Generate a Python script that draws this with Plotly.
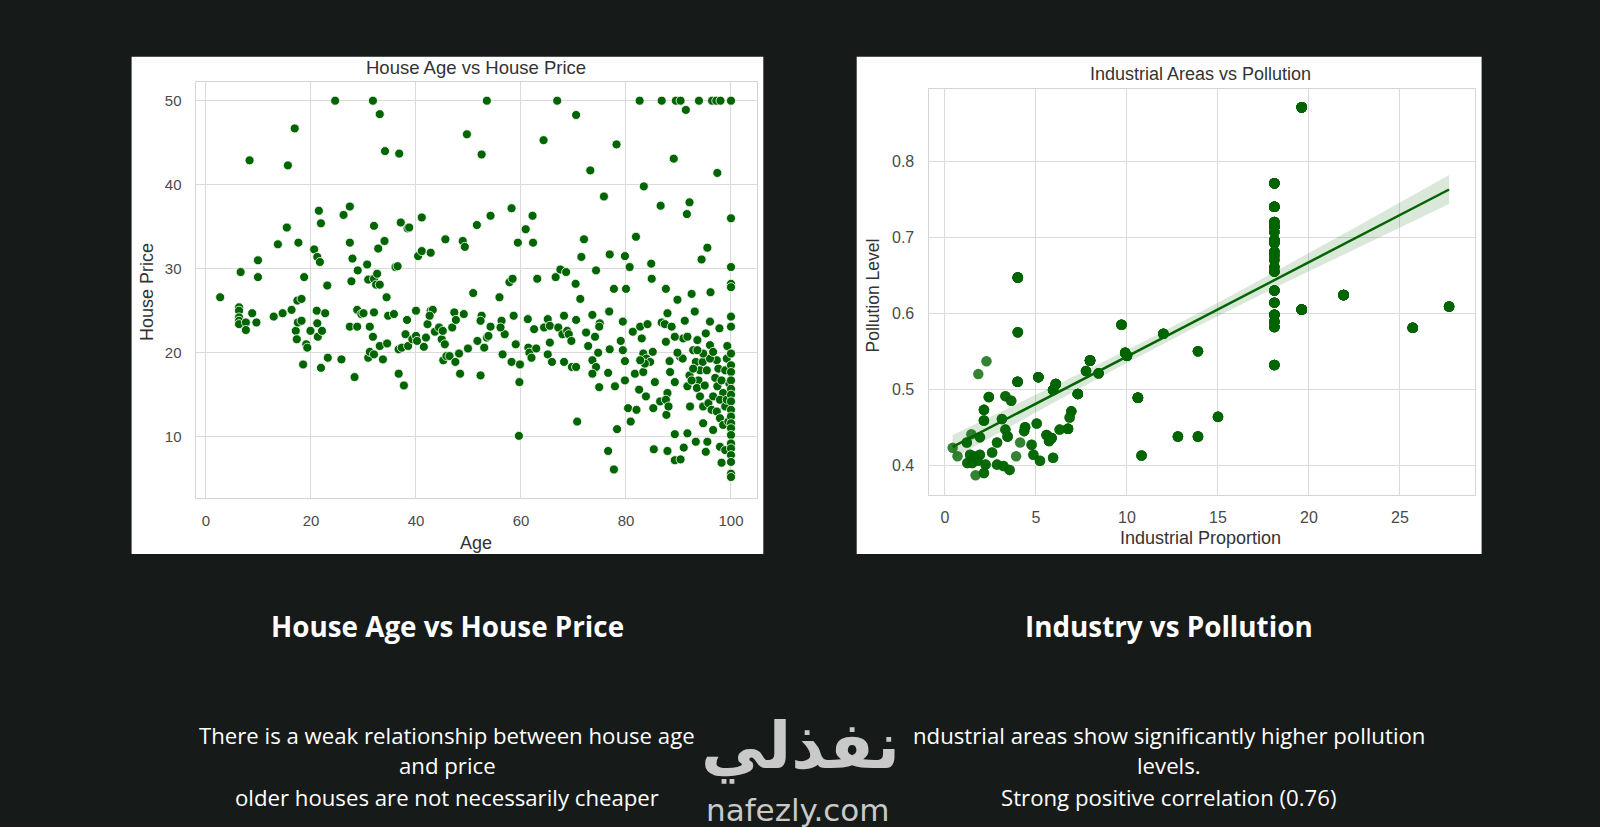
import numpy as np
import plotly.graph_objects as go

W, H = 1600, 827
BG = '#161a19'
GREEN = '#006400'
SANS = 'Liberation Sans, Arial, sans-serif'
OPEN = 'Open Sans, sans-serif'

# ---- left chart: house age vs house price
AGE_SPREAD = [
    2.7, 6.3, 6.3, 6.3, 6.3, 6.3, 6.6, 7.6, 7.6, 8.3,
    8.8, 9.6, 9.9, 9.9, 12.9, 13.7, 14.6, 15.4, 15.6, 16.3,
    16.9, 17.1, 17.3, 17.5, 17.6, 17.4, 18.2, 18.2, 18.5, 18.7,
    19.1, 19.3, 19.9, 20.6, 21.2, 21.7, 21.5, 21.9, 21.1, 21.2,
    21.3, 22.1, 21.9, 22.7, 23.1, 23.2, 24.6, 25.8, 26.2, 27.4,
    27.4, 27.7, 27.9, 27.4, 28.8, 28.3, 28.8, 29.6, 30.0, 28.9,
    30.7, 30.9, 31.2, 31.2, 30.9, 32.0, 32.6, 32.4, 33.1, 31.8,
    32.0, 31.8, 32.0, 32.0, 32.8, 33.1, 33.1, 33.7, 34.0, 34.1,
    34.4, 34.5, 34.7, 35.8, 36.1, 36.5, 36.8, 36.7, 37.7, 36.7,
    37.3, 37.1, 38.4, 38.7, 38.0, 38.3, 38.5, 39.3, 40.0, 40.0,
    40.2, 40.4, 41.1, 41.1, 41.5, 41.9, 42.2, 42.8, 43.2, 42.6,
    42.8, 43.6, 44.4, 44.9, 45.1, 45.5, 45.6, 45.2, 45.8, 46.4,
    46.9, 47.3, 47.6, 47.5, 48.2, 48.4, 48.9, 49.3, 49.1, 49.7,
    49.9, 50.9, 51.6, 51.7, 52.5, 52.3, 52.5, 52.3, 53.0, 53.5,
    53.8, 53.5, 54.2, 54.2, 55.9, 56.5, 56.3, 56.9, 56.1, 57.8,
    58.4, 58.2, 58.2, 58.6, 59.0, 59.4, 59.7, 59.6, 59.8, 60.9,
    61.3, 61.4, 61.6, 62.0, 62.2, 62.3, 62.5, 62.9, 63.1, 64.3,
    64.4, 65.1, 65.1, 65.5, 65.5, 65.9, 66.6, 66.9, 67.1, 67.5,
    68.6, 67.9, 68.2, 68.8, 68.2, 69.1, 69.6, 69.7, 70.5, 70.4,
    70.5, 70.5, 70.7, 71.3, 71.5, 72.0, 72.4, 72.8, 73.2, 74.3,
    75.8, 76.9, 77.7, 78.2, 79.8, 80.0, 80.7, 81.9, 82.6, 83.4,
    84.8, 84.9, 86.6, 86.8, 87.6, 89.1, 89.5, 90.4, 89.8, 91.4,
    91.6, 92.1, 92.5, 93.9, 94.4, 95.5, 96.1, 96.4, 97.2, 98.0,
    100.0, 97.4, 100.0, 100.0, 100.0, 100.0,
]
PRICE_SPREAD = [
    26.6, 25.4, 25.0, 24.2, 23.8, 23.4, 29.6, 23.6, 22.7, 42.9,
    24.7, 23.6, 31.0, 29.0, 24.3, 32.9, 24.7, 34.9, 42.3, 25.1,
    46.7, 22.6, 21.6, 23.6, 33.1, 26.2, 26.4, 23.8, 18.6, 29.0,
    21.0, 20.6, 22.6, 32.3, 31.4, 30.8, 36.9, 35.4, 25.0, 23.5,
    21.9, 22.6, 18.2, 24.7, 28.0, 19.4, 50.0, 19.2, 36.4, 37.4,
    33.1, 28.5, 31.2, 23.1, 23.1, 17.1, 25.1, 24.6, 24.7, 29.8,
    30.5, 19.4, 20.1, 23.1, 28.7, 28.8, 29.4, 28.1, 28.1, 50.0,
    35.1, 21.9, 24.8, 19.8, 32.4, 48.4, 20.8, 19.2, 33.3, 44.0,
    26.6, 21.1, 24.4, 24.6, 30.2, 30.3, 43.7, 17.5, 16.1, 20.4,
    20.6, 35.5, 34.8, 34.9, 22.2, 23.9, 20.8, 21.6, 25.0, 22.0,
    21.4, 31.5, 32.1, 36.1, 20.7, 21.8, 23.4, 25.0, 25.1, 24.4,
    31.9, 22.5, 23.0, 21.6, 22.6, 21.0, 33.5, 19.1, 19.6, 19.6,
    23.0, 24.8, 23.9, 18.9, 19.9, 17.5, 33.3, 32.6, 24.6, 46.0,
    20.5, 27.1, 35.2, 21.4, 43.6, 17.3, 24.4, 23.8, 20.6, 21.8,
    22.0, 50.0, 36.3, 23.1, 26.6, 19.8, 23.8, 22.2, 23.0, 28.4,
    28.8, 37.2, 18.9, 24.4, 21.0, 33.1, 16.5, 10.1, 18.6, 34.7,
    24.0, 20.6, 20.0, 19.4, 36.3, 33.1, 22.8, 20.5, 28.8, 45.3,
    23.0, 19.8, 24.0, 23.2, 21.2, 18.9, 29.0, 50.0, 23.0, 29.9,
    29.6, 22.2, 24.4, 22.6, 18.9, 22.2, 21.4, 18.3, 18.3, 28.2,
    48.3, 23.9, 11.8, 26.4, 31.4, 33.5, 22.4, 20.8, 41.7, 29.8,
    38.6, 31.7, 27.6, 44.8, 31.5, 27.6, 30.2, 33.8, 50.0, 39.8,
    30.6, 28.8, 37.5, 50.0, 27.6, 43.1, 50.0, 50.0, 26.3, 48.9,
    36.5, 37.9, 27.0, 50.0, 31.1, 32.5, 27.2, 50.0, 50.0, 50.0,
    50.0, 41.4, 36.0, 30.2, 28.2, 27.8,
]
AGE_DENSE = [
    73.6, 76.8, 75.0, 74.9, 79.4, 74.1, 79.0, 76.9, 79.4, 74.7,
    73.6, 74.3, 73.6, 76.6, 79.8, 74.9, 77.9, 79.8, 81.3, 82.7,
    84.1, 83.0, 81.7, 83.3, 82.5, 83.8, 85.5, 85.2, 80.4, 82.0,
    80.9, 78.3, 76.6, 77.7, 83.3, 83.9, 84.6, 83.6, 85.1, 82.7,
    86.5, 87.7, 87.9, 86.8, 87.4, 88.7, 87.6, 88.3, 88.4, 87.9,
    87.6, 88.1, 89.3, 90.3, 90.8, 89.8, 90.9, 91.7, 91.2, 93.1,
    89.3, 92.8, 93.3, 92.1, 91.7, 92.2, 91.7, 89.3, 93.3, 91.0,
    87.9, 85.3, 89.3, 90.4, 93.6, 95.2, 96.0, 97.8, 96.0, 94.6,
    94.1, 93.8, 93.5, 95.4, 95.0, 94.1, 94.7, 95.7, 96.6, 96.3,
    97.3, 97.6, 97.0, 97.4, 98.2, 98.5, 97.9, 98.9, 97.3, 97.9,
    98.5, 94.7, 96.6, 95.5, 97.9, 98.9, 95.2, 98.2, 98.9, 99.2,
    99.3, 96.0, 96.6, 94.7, 92.8, 92.5, 93.6, 99.5, 99.2, 99.7,
    100.0, 100.0, 100.0, 100.0, 100.0, 100.0, 100.0, 100.0, 100.0, 100.0,
    100.0, 100.0, 100.0, 100.0, 100.0, 100.0, 100.0, 100.0, 100.0, 100.0,
]
PRICE_DENSE = [
    24.5, 24.9, 23.5, 23.1, 23.7, 21.9, 21.4, 20.4, 20.3, 20.0,
    19.1, 18.3, 17.5, 17.6, 19.0, 15.9, 16.0, 16.7, 22.5, 23.1,
    23.4, 21.7, 17.5, 17.7, 15.6, 14.8, 16.5, 13.4, 13.4, 13.2,
    11.8, 10.9, 8.3, 6.1, 19.9, 19.3, 18.9, 18.7, 20.1, 19.1,
    14.2, 12.6, 24.7, 23.6, 23.4, 23.1, 21.3, 19.0, 17.7, 15.2,
    14.4, 13.6, 16.5, 19.5, 19.3, 20.0, 21.7, 21.9, 23.8, 24.9,
    21.9, 20.3, 18.9, 17.3, 16.0, 13.6, 10.4, 10.3, 9.4, 8.7,
    8.3, 8.5, 7.2, 7.3, 21.5, 22.3, 23.7, 22.9, 20.9, 18.9,
    17.9, 16.7, 15.8, 17.9, 16.1, 14.8, 13.6, 14.0, 14.8, 13.2,
    19.1, 18.1, 17.0, 16.0, 16.7, 15.2, 14.4, 13.6, 13.0, 12.2,
    11.4, 11.6, 10.8, 9.4, 8.8, 8.4, 8.2, 6.9, 17.9, 19.3,
    20.8, 19.3, 20.1, 19.9, 18.1, 16.7, 20.3, 11.8, 14.4, 16.3,
    24.3, 23.1, 19.9, 18.5, 17.7, 16.7, 15.7, 15.0, 14.2, 13.2,
    12.4, 11.6, 11.0, 10.2, 9.2, 8.6, 7.8, 7.0, 5.6, 5.2,
]

# ---- right chart: industrial proportion vs pollution level
INDUS = [
    18.1, 18.1, 18.1, 18.1, 18.1, 18.1, 18.1, 18.1, 18.1, 18.1,
    18.1, 18.1, 18.1, 18.1, 18.1, 18.1, 18.1, 18.1,
    19.6, 19.6, 21.9, 25.7, 27.7, 4.0, 4.0, 9.7, 12.0, 9.9,
    10.0, 13.9, 10.6, 15.0, 12.8, 13.9, 10.8,
    2.28, 1.83, 3.99, 5.13, 6.09, 5.94, 7.97, 7.75, 8.44, 7.30,
    2.41, 3.32, 3.64, 2.14, 2.14, 3.13, 6.94, 6.85, 4.40, 4.35,
    5.04, 6.76, 6.30, 5.58, 5.85, 5.72, 3.32, 3.44, 1.45, 1.92,
    4.13, 4.76, 2.86, 2.59, 0.42, 0.69, 1.20, 1.38, 1.59, 1.92,
    1.23, 1.50, 1.78, 2.23, 2.86, 3.22, 3.55, 3.91, 4.86, 5.22,
    5.94, 1.68, 2.14,
]
NOX = [
    0.771, 0.740, 0.720, 0.714, 0.707, 0.696, 0.692, 0.681, 0.676, 0.670,
    0.661, 0.655, 0.630, 0.614, 0.598, 0.589, 0.582, 0.532,
    0.871, 0.605, 0.624, 0.581, 0.609, 0.647, 0.575, 0.585, 0.573, 0.548,
    0.544, 0.550, 0.489, 0.464, 0.438, 0.438, 0.413,
    0.537, 0.520, 0.510, 0.516, 0.507, 0.499, 0.538, 0.524, 0.521, 0.494,
    0.490, 0.491, 0.485, 0.473, 0.459, 0.461, 0.471, 0.463, 0.450, 0.445,
    0.455, 0.448, 0.447, 0.440, 0.436, 0.432, 0.447, 0.438, 0.441, 0.437,
    0.430, 0.427, 0.430, 0.417, 0.423, 0.412, 0.430, 0.414, 0.412, 0.414,
    0.403, 0.403, 0.406, 0.401, 0.401, 0.399, 0.394, 0.412, 0.414, 0.406,
    0.410, 0.387, 0.390,
]
# how many districts sit on each dot (pale dots are single, dark ones stacked)
STACK = [
    9, 13, 6, 14, 4, 12, 4, 5, 4, 4,
    4, 5, 6, 6, 10, 6, 6, 6,
    16, 14, 15, 7, 5, 8, 4, 5, 5, 6,
    6, 4, 11, 4, 4, 5, 3,
    1, 1, 5, 6, 8, 6, 12, 3, 4, 8,
    3, 2, 2, 3, 3, 2, 3, 2, 3, 2,
    2, 5, 2, 3, 5, 3, 2, 3, 1, 2,
    1, 2, 2, 2, 1, 1, 2, 2, 2, 2,
    2, 2, 2, 2, 2, 2, 2, 1, 2, 2,
    2, 1, 2,
]

X_TICKS_L = [0, 20, 40, 60, 80, 100]
Y_TICKS_L = [10, 20, 30, 40, 50]
X_TICKS_R = [0, 5, 10, 15, 20, 25]
Y_TICKS_R = [0.4, 0.5, 0.6, 0.7, 0.8]

age = AGE_SPREAD + AGE_DENSE
price = PRICE_SPREAD + PRICE_DENSE


def px(x):
    return x / W


def py(y):
    return 1 - y / H


# every district as its own row
xi = np.repeat(INDUS, STACK)
yi = np.repeat(NOX, STACK)

# regression line + 95% band for the right chart
slope, icpt = np.polyfit(xi, yi, 1)
xs = np.linspace(xi.min(), xi.max(), 100)
fit = icpt + slope * xs
resid = yi - (icpt + slope * xi)
s = np.sqrt(np.sum(resid ** 2) / (len(xi) - 2))
se = s * np.sqrt(1 / len(xi) + (xs - xi.mean()) ** 2 / np.sum((xi - xi.mean()) ** 2))
lo, hi = fit - 1.96 * se, fit + 1.96 * se

fig = go.Figure()

fig.add_trace(go.Scatter(
    x=age, y=price, mode='markers', xaxis='x', yaxis='y',
    marker=dict(color=GREEN, size=9, line=dict(color='white', width=0.8)),
))
fig.add_trace(go.Scatter(
    x=np.concatenate([xs, xs[::-1]]), y=np.concatenate([hi, lo[::-1]]),
    fill='toself', fillcolor='rgba(0,100,0,0.15)', line=dict(width=0),
    mode='lines', xaxis='x2', yaxis='y2',
))
fig.add_trace(go.Scatter(
    x=xi, y=yi, mode='markers', xaxis='x2', yaxis='y2',
    marker=dict(color=GREEN, size=10.5, opacity=0.8, line=dict(width=0)),
))
fig.add_trace(go.Scatter(
    x=xs, y=fit, mode='lines', xaxis='x2', yaxis='y2',
    line=dict(color=GREEN, width=2.5),
))

axis_common = dict(
    showgrid=True, gridcolor='#dadada', gridwidth=1, zeroline=False,
    showline=True, mirror=True, linecolor='#d4d4d4', linewidth=1.3,
    ticks='', tickfont=dict(family=SANS, size=15, color='#4a4a4a'),
)

fig.update_layout(
    width=W, height=H,
    margin=dict(l=0, r=0, t=0, b=0),
    paper_bgcolor=BG, plot_bgcolor='white',
    showlegend=False, hovermode=False,
    xaxis=dict(axis_common, domain=[px(195.7), px(756.5)], range=[-1.96, 104.86],
               tickvals=X_TICKS_L, anchor='y', ticklabelstandoff=9),
    yaxis=dict(axis_common, domain=[py(497.6), py(81.8)], range=[2.75, 52.25],
               tickvals=Y_TICKS_L, anchor='x', ticklabelstandoff=10),
    xaxis2=dict(axis_common, domain=[px(928.6), px(1474.6)], range=[-0.9, 29.1],
                tickvals=X_TICKS_R, anchor='y2', ticklabelstandoff=8,
                tickfont=dict(family=SANS, size=16, color='#4a4a4a')),
    yaxis2=dict(axis_common, domain=[py(495), py(89)], range=[0.361, 0.895],
                tickvals=Y_TICKS_R, tickformat='.1f', anchor='x2', ticklabelstandoff=10,
                tickfont=dict(family=SANS, size=16, color='#4a4a4a')),
)

# white panels behind the two charts
for x0, x1 in [(131.6, 763.3), (856.7, 1481.6)]:
    fig.add_shape(type='rect', xref='paper', yref='paper', layer='below',
                  x0=px(x0), x1=px(x1), y0=py(554), y1=py(56.7),
                  fillcolor='white', line=dict(width=0))


def note(text, x, y, size, color='#333333', family=SANS, angle=0, bold=False):
    if bold:
        text = '<b>' + text + '</b>'
    fig.add_annotation(text=text, x=px(x), y=py(y), xref='paper', yref='paper',
                       xanchor='center', yanchor='middle', showarrow=False,
                       textangle=angle, font=dict(family=family, size=size, color=color))


# chart titles and axis labels
note('House Age vs House Price', 476.5, 67.5, 18.5)
note('Age', 476.5, 543, 18)
note('House Price', 147, 292, 18, angle=-90)
note('Industrial Areas vs Pollution', 1200, 73.5, 18)
note('Industrial Proportion', 1200, 538, 18)
note('Pollution Level', 872.5, 296, 17.5, angle=-90)

# captions
note('House Age vs House Price', 447, 625.5, 27.8, color='white', family=OPEN, bold=True)
note('Industry vs Pollution', 1169, 625.5, 27.8, color='white', family=OPEN, bold=True)

note('There is a weak relationship between house age', 447, 735, 22.2, color='white', family=OPEN)
note('and price', 447, 765.5, 22.2, color='white', family=OPEN)
note('older houses are not necessarily cheaper', 447, 797, 22.2, color='white', family=OPEN)
note('ndustrial areas show significantly higher pollution', 1169, 735, 22.2, color='white', family=OPEN)
note('levels.', 1169, 765.5, 22.2, color='white', family=OPEN)
note('Strong positive correlation (0.76)', 1169, 797, 22.2, color='white', family=OPEN)

# watermark
note('نفذلي', 800, 746, 65, color='#c9c9c9', family='DejaVu Sans', bold=True)
note('nafezly.com', 798, 810, 31, color='#c9c9c9', family='DejaVu Sans')

fig.write_html('out.html', config={'displayModeBar': False}, post_script=(
    "document.body.style.margin='0';"
    "document.body.style.background='" + BG + "';"
))
